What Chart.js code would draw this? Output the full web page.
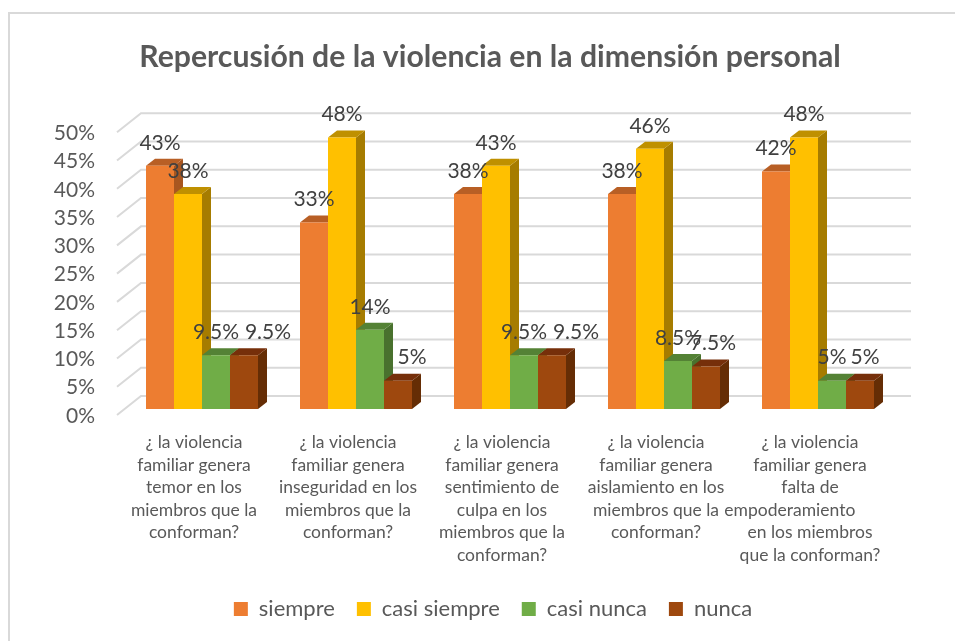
<!DOCTYPE html>
<html>
<head>
<meta charset="utf-8">
<title>Repercusión de la violencia</title>
<script src="https://cdn.jsdelivr.net/npm/chart.js@4"></script>
<style>
    html, body {margin: 0; padding: 0; background: #fff; overflow: hidden; width: 955px; height: 641px;}
    #frame {position: absolute; left: 8px; top: 12px; width: 960px; height: 640px; border: 2px solid #d9d9d9;}
    canvas {display: block;}
</style>
</head>
<body>
<div id="frame"><canvas id="chart" width="960" height="627"></canvas></div>
<script>
const categories = [
    ["¿ la violencia", "familiar genera", "temor en los", "miembros que la", "conforman?"],
    ["¿ la violencia", "familiar genera", "inseguridad en los", "miembros que la", "conforman?"],
    ["¿ la violencia", "familiar genera", "sentimiento de", "culpa en los", "miembros que la", "conforman?"],
    ["¿ la violencia", "familiar genera", "aislamiento en los", "miembros que la", "conforman?"],
    ["¿ la violencia", "familiar genera", "falta de", "empoderamiento\u00a0\u00a0\u00a0\u00a0\u00a0\u00a0\u00a0\u00a0\u00a0", "en los miembros", "que la conforman?"]
];
const siempre = [43, 33, 38, 38, 42];
const casiSiempre = [38, 48, 43, 46, 48];
const casiNunca = [9.5, 14, 9.5, 8.5, 5];
const nunca = [9.5, 5, 9.5, 7.5, 5];

const seriesNames = ["siempre", "casi siempre", "casi nunca", "nunca"];
const seriesColors = ["#ed7d31", "#ffc000", "#70ad47", "#9e480e"];
const topColors = ["#b85f25", "#bf9000", "#548235", "#762f0a"];
const sideColors = ["#a85620", "#a67c00", "#49712e", "#652d05"];

const fontName = "Lato, sans-serif";
const depthX = 9, depthY = 7;       // bar depth
// the wall sits behind the bars, the floor edge in front of them
const wallX = 16, wallY = 13, floorX = 8, floorY = 6;
// sideways shift of the last series labels, they dodge the neighbour bars
const nunca_nudge = [24, 14, 24, 7, 5];

function poly(ctx, pts, color) {
    ctx.fillStyle = color;
    ctx.beginPath();
    ctx.moveTo(pts[0][0], pts[0][1]);
    for (var i = 1; i < pts.length; i++) {ctx.lineTo(pts[i][0], pts[i][1])}
    ctx.closePath();
    ctx.fill();
}

// back wall and side wall lines, then top and side of all bars
const fake3d = {
    id: "fake3d",
    afterLayout(chart) {
        // legend sits a bit right of the middle in the original
        chart.legend.left += 3;
        chart.legend.right += 3;
    },
    beforeDatasetsDraw(chart) {
        const ctx = chart.ctx;
        const area = chart.chartArea;
        const y = chart.scales.y;
        ctx.save();
        ctx.strokeStyle = "#d9d9d9";
        ctx.lineWidth = 2;
        y.ticks.forEach(t => {
            var py = y.getPixelForValue(t.value);
            ctx.beginPath();
            ctx.moveTo(area.left - floorX, py + floorY);
            ctx.lineTo(area.left + wallX, py - wallY);
            ctx.lineTo(area.right + wallX, py - wallY);
            ctx.stroke();
        });
        chart.data.datasets.forEach((ds, d) => {
            chart.getDatasetMeta(d).data.forEach(bar => {
                var l = bar.x - bar.width / 2, r = bar.x + bar.width / 2;
                poly(ctx, [[r, bar.y], [r + depthX, bar.y - depthY], [r + depthX, bar.base - depthY], [r, bar.base]], sideColors[d]);
                poly(ctx, [[l, bar.y], [l + depthX, bar.y - depthY], [r + depthX, bar.y - depthY], [r, bar.y]], topColors[d]);
            });
        });
        ctx.restore();
    },
    afterDatasetsDraw(chart) {
        const ctx = chart.ctx;
        ctx.save();
        ctx.font = "21px " + fontName;
        ctx.fillStyle = "#404040";
        ctx.textAlign = "center";
        ctx.textBaseline = "middle";
        chart.data.datasets.forEach((ds, d) => {
            chart.getDatasetMeta(d).data.forEach((bar, i) => {
                var dx = d == 3 ? nunca_nudge[i] : 0;
                ctx.fillText(ds.data[i] + "%", bar.x + dx, bar.y - 23);
            });
        });
        ctx.restore();
    }
};

new Chart("chart", {
    type: "bar",
    data: {
        labels: categories,
        datasets: [siempre, casiSiempre, casiNunca, nunca].map((vals, d) => ({
            label: seriesNames[d],
            data: vals,
            backgroundColor: seriesColors[d],
            barPercentage: 1,
            categoryPercentage: 112 / 154
        }))
    },
    options: {
        responsive: false,
        animation: false,
        layout: {padding: {left: 0, right: 0, top: 0, bottom: 11}},
        plugins: {
            title: {
                display: true,
                text: "Repercusión de la violencia en la dimensión personal",
                color: "#595959",
                font: {family: fontName, size: 30.2, weight: "bold"},
                padding: {top: 25, bottom: 51}
            },
            legend: {
                position: "bottom",
                labels: {
                    boxWidth: 14,
                    boxHeight: 14,
                    color: "#595959",
                    font: {family: fontName, size: 22},
                    padding: 22
                }
            },
            tooltip: {enabled: false}
        },
        scales: {
            x: {
                grid: {display: false},
                border: {display: false},
                afterFit(scale) {scale.height = 167},
                ticks: {
                    color: "#595959",
                    font: {family: fontName, size: 17.5, lineHeight: 1.29},
                    labelOffset: -8,
                    padding: 14,
                    maxRotation: 0,
                    minRotation: 0,
                    autoSkip: false
                }
            },
            y: {
                min: 0,
                max: 50,
                grid: {display: false},
                border: {display: false},
                afterFit(scale) {scale.width = 115},
                ticks: {
                    stepSize: 5,
                    autoSkip: false,
                    color: "#595959",
                    font: {family: fontName, size: 21},
                    labelOffset: 7,
                    padding: 22,
                    callback: v => v + "%"
                }
            },
            // empty axis, only keeps the space right of the plot
            spacer: {
                position: "right",
                grid: {display: false},
                border: {display: false},
                ticks: {display: false},
                afterFit(scale) {scale.width = 75}
            }
        }
    },
    plugins: [fake3d]
});
</script>
</body>
</html>
